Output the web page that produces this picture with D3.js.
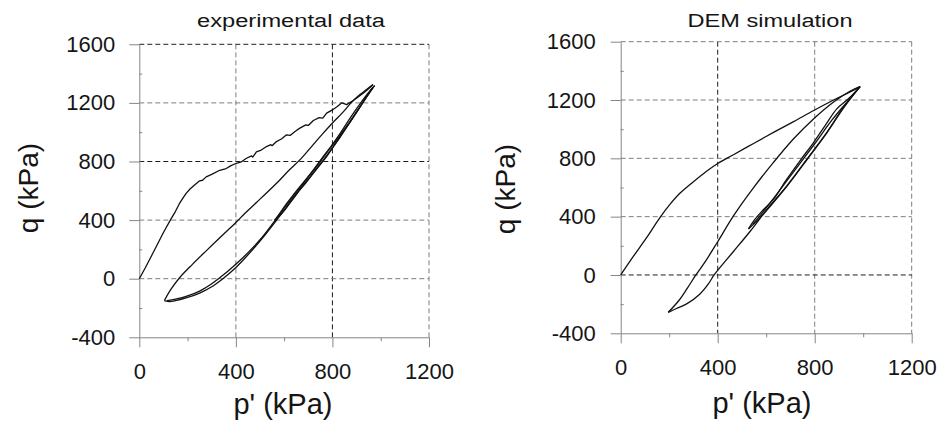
<!DOCTYPE html>
<html>
<head>
<meta charset="utf-8">
<script src="https://cdn.jsdelivr.net/npm/d3@7"></script>
<style>
  body { margin: 0; background: #fff; }
  svg { display: block; font-family: "Liberation Sans", Arial, sans-serif; }
</style>
</head>
<body>
<div id="chart"></div>
<script>
// axis ticks (kPa)
const pTicks = [0, 400, 800, 1200];
const pMinor = [200, 600, 1000];
const qTicks = [-400, 0, 400, 800, 1200, 1600];
const qMinor = [-200, 200, 600, 1000, 1400];

const expLoading = [[0,0],[25,75],[55,170],[80,250],[100,315],[132,410],[150,460],[166,512],[180,548],[194,582],
  [210,612],[229,640],[250,668],[262,672],[277,695],[300,712],[333,740],[360,752],[380,772],[402,788],[420,795],
  [444,822],[465,838],[470,830],[485,866],[505,878],[527,902],[545,915],[550,908],[568,936],[590,955],[610,982],
  [625,978],[645,1005],[665,1028],[690,1050],[700,1046],[721,1080],[745,1100],[760,1096],[776,1130],[800,1152],
  [820,1175],[838,1200],[845,1196],[859,1188],[875,1205],[901,1234],[930,1270],[956,1305],[968,1325]];
const expUnload1 = [[968,1325],[940,1290],[914,1257],[880,1205],[840,1130],[804,1070],[760,990],
  [710,895],[665,811],[620,740],[582,674],[530,590],[485,520],[440,450],[399,382],[340,290],[277,190],
  [220,98],[166,5],[130,-75],[104,-149]];
const expReload1 = [[104,-149],[125,-156],[150,-150],[200,-128],[250,-98],[300,-55],[350,5],[399,75],
  [440,145],[485,228],[527,312],[568,398],[610,488],[651,578],[690,655],[721,720],[750,780],
  [776,834],[805,905],[832,970],[860,1040],[887,1105],[915,1175],[942,1245],[960,1290],[975,1318]];
const expUnload2 = [[975,1318],[945,1262],[915,1195],[885,1125],[855,1050],[825,975],[795,905],[760,830],
  [725,752],[690,678],[650,598],[610,512],[575,430],[560,398]];
const expReload2 = [[560,398],[590,445],[630,530],[670,618],[710,700],[750,783],[790,870],[830,962],[870,1060],
  [910,1160],[945,1250],[968,1305]];
const expUnload3 = [[968,1305],[935,1225],[900,1140],[865,1055],[830,975],[790,890],[750,800],[710,715],
  [670,630],[630,545],[590,460],[550,370],[510,285],[470,212],[430,145],[390,85],[350,28],[300,-35],[250,-85],
  [200,-118],[150,-140],[115,-150]];

// DEM simulation, [p', q] in kPa
const demLoading = [[0,0],[52,127],[106,254],[161,392],[203,484],[244,560],[300,640],[354,712],[400,765],
  [465,825],[548,902],[630,978],[713,1052],[796,1128],[878,1200],[934,1245],[987,1292]];
const demUnload1 = [[987,1292],[947,1262],[878,1187],[796,1072],[713,934],[630,772],[548,599],[465,405],
  [400,228],[350,95],[310,0],[275,-90],[240,-175],[196,-256]];
const demReload1 = [[196,-256],[230,-230],[272,-198],[327,-130],[360,-65],[385,0],[400,32],[465,161],
  [534,300],[603,449],[685,611],[768,795],[851,980],[920,1153],[987,1292]];
const demUnload2 = [[987,1292],[940,1210],[892,1141],[845,1030],[796,910],[740,785],[685,657],[630,520],
  [589,449],[550,375],[527,316]];
const demReload2 = [[527,316],[570,385],[620,478],[690,618],[770,795],[850,975],[920,1148],[987,1292]];
const demUnload3 = [[987,1292],[930,1180],[870,1060],[800,900],[730,745],[660,590],[600,460],[545,348]];

const smooth = d3.curveCatmullRom.alpha(0.5);

const panels = [
  { title: "experimental data", titleX: 291, titleLen: 188,
    left: 139.3, right: 429, top: 44.3, bottom: 337.3,
    darkP: [800], darkQ: [800, 1600],
    labelPad: 14, yTitleX: 38, yTitleY: 188, xTitleX: 283, xTitleY: 414,
    runs: [expLoading, expUnload1, expReload1, expUnload2, expReload2, expUnload3],
    curves: [d3.curveLinear, smooth, smooth, smooth, smooth, smooth] },
  { title: "DEM simulation", titleX: 770, titleLen: 165,
    left: 620.7, right: 911.7, top: 41.7, bottom: 333.3,
    darkP: [400], darkQ: [0],
    labelPad: 15, yTitleX: 515, yTitleY: 189, xTitleX: 762, xTitleY: 413,
    runs: [demLoading, demUnload1, demReload1, demUnload2, demReload2, demUnload3],
    curves: [smooth, smooth, smooth, smooth, smooth, smooth] }
];

const svg = d3.select("#chart").append("svg")
  .attr("width", 938)
  .attr("height", 430);

svg.append("rect").attr("width", 938).attr("height", 430).attr("fill", "#fff");

const gridGray = "#7d7d7d";
const gridDark = "#1e1e1e";
const axisGray = "#858585";
const plain = d => String(d);

panels.forEach(pn => {
  const x = d3.scaleLinear().domain([0, 1200]).range([pn.left, pn.right]);
  const y = d3.scaleLinear().domain([-400, 1600]).range([pn.bottom, pn.top]);

  // dashed grid (top and right frame included)
  svg.append("g").selectAll("line")
    .data(pTicks.filter(d => d > 0))
    .join("line")
    .attr("x1", d => x(d)).attr("x2", d => x(d))
    .attr("y1", y(1600)).attr("y2", y(-400))
    .attr("stroke", d => pn.darkP.includes(d) ? gridDark : gridGray)
    .attr("stroke-width", 1)
    .attr("stroke-dasharray", "5,3");

  svg.append("g").selectAll("line")
    .data(qTicks.filter(d => d > -400))
    .join("line")
    .attr("x1", x(0)).attr("x2", x(1200))
    .attr("y1", d => y(d)).attr("y2", d => y(d))
    .attr("stroke", d => pn.darkQ.includes(d) ? gridDark : gridGray)
    .attr("stroke-width", 1)
    .attr("stroke-dasharray", "5,3");

  // axes
  const yAxis = svg.append("g")
    .attr("transform", `translate(${pn.left},0)`)
    .call(d3.axisLeft(y).tickValues(qTicks).tickFormat(plain).tickSize(10).tickSizeOuter(0).tickPadding(pn.labelPad));
  svg.append("g")
    .attr("transform", `translate(${pn.left},0)`)
    .call(d3.axisLeft(y).tickValues(qMinor).tickSize(-3).tickSizeOuter(0).tickFormat(""))
    .call(g => g.select(".domain").remove());

  const xAxis = svg.append("g")
    .attr("transform", `translate(0,${pn.bottom})`)
    .call(d3.axisBottom(x).tickValues(pTicks).tickFormat(plain).tickSize(10).tickSizeOuter(0).tickPadding(16));
  svg.append("g")
    .attr("transform", `translate(0,${pn.bottom})`)
    .call(d3.axisBottom(x).tickValues(pMinor).tickSize(4).tickSizeOuter(0).tickFormat(""))
    .call(g => g.select(".domain").remove());

  svg.selectAll(".domain, .tick line").attr("stroke", axisGray);
  [yAxis, xAxis].forEach(a => a.selectAll("text")
    .attr("fill", "#151515")
    .style("font-size", "22px")
    .style("font-family", "'Liberation Sans', Arial, sans-serif"));

  // curves, one path per loading / unloading run
  svg.append("g").selectAll("path")
    .data(pn.runs)
    .join("path")
    .attr("d", (d, i) => d3.line().x(v => x(v[0])).y(v => y(v[1])).curve(pn.curves[i])(d))
    .attr("fill", "none")
    .attr("stroke", "#111")
    .attr("stroke-width", 1.3)
    .attr("stroke-linejoin", "round");

  // titles
  svg.append("text")
    .attr("x", pn.titleX).attr("y", 27)
    .attr("text-anchor", "middle")
    .attr("textLength", pn.titleLen)
    .attr("lengthAdjust", "spacingAndGlyphs")
    .style("font-size", "18px")
    .attr("fill", "#151515")
    .text(pn.title);

  svg.append("text")
    .attr("x", pn.xTitleX).attr("y", pn.xTitleY)
    .attr("text-anchor", "middle")
    .style("font-size", "29px")
    .attr("fill", "#151515")
    .text("p' (kPa)");

  svg.append("text")
    .attr("transform", `translate(${pn.yTitleX},${pn.yTitleY}) rotate(-90)`)
    .attr("text-anchor", "middle")
    .style("font-size", "28px")
    .attr("fill", "#151515")
    .text("q (kPa)");
});
</script>
</body>
</html>
